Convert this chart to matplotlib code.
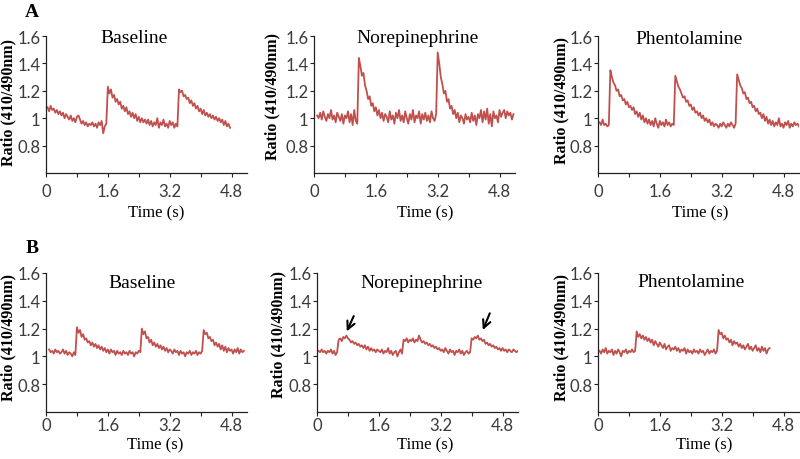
import numpy as np
import matplotlib
matplotlib.use("Agg")
from matplotlib import pyplot as plt

# sampling interval of the recordings (s)
dt = 0.04

# ---- row A traces (ratio 410/490 nm) ----
a_base_t0 = 0.04
a_base = [1.08, 1.05, 1.09, 1.06, 1.07, 1.04, 1.06, 1.03, 1.05, 1.02,
          1.04, 1.00, 1.03, 1.01, 0.99, 1.02, 0.98, 1.00, 0.97, 1.01,
          1.02, 0.99, 0.96, 0.98, 0.95, 0.97, 0.94, 0.96, 0.95, 0.97,
          0.94, 0.96, 0.93, 0.97, 0.95, 0.98, 0.89, 0.94, 0.96, 1.23,
          1.18, 1.21, 1.15, 1.17, 1.12, 1.14, 1.10, 1.12, 1.07, 1.09,
          1.05, 1.08, 1.03, 1.05, 1.01, 1.04, 1.00, 1.03, 0.98, 1.01,
          0.97, 1.00, 0.97, 0.99, 0.96, 0.99, 0.95, 0.98, 0.94, 0.97,
          0.95, 1.00, 0.93, 0.97, 0.95, 0.99, 0.94, 0.96, 0.93, 0.98,
          0.95, 0.97, 0.93, 0.96, 0.94, 1.21, 1.19, 1.20, 1.16, 1.17,
          1.14, 1.15, 1.11, 1.13, 1.09, 1.11, 1.07, 1.09, 1.05, 1.07,
          1.03, 1.06, 1.02, 1.04, 1.01, 1.03, 1.00, 1.02, 0.99, 1.01,
          0.98, 1.00, 0.97, 0.99, 0.95, 0.98, 0.94, 0.96, 0.93]

a_ne_t0 = 0.08
a_ne = [1.02, 1.00, 1.04, 0.99, 1.05, 1.01, 0.98, 1.03, 1.00, 1.06,
        0.99, 1.02, 0.97, 1.04, 1.01, 0.98, 1.03, 0.96, 1.02, 1.00,
        1.05, 0.97, 1.03, 0.95, 1.06, 0.98, 0.96, 1.44, 1.38, 1.31,
        1.33, 1.24, 1.20, 1.14, 1.16, 1.09, 1.11, 1.05, 1.08, 1.02,
        1.06, 1.00, 1.04, 0.98, 1.03, 1.01, 0.97, 1.05, 0.99, 1.02,
        0.96, 1.04, 1.00, 1.06, 0.98, 1.02, 0.97, 1.05, 1.00, 0.96,
        1.03, 0.99, 1.06, 0.97, 1.02, 1.00, 1.05, 0.96, 1.03, 0.99,
        1.04, 0.98, 1.02, 0.97, 1.05, 1.00, 0.98, 1.03, 1.48, 1.40,
        1.30, 1.25, 1.18, 1.20, 1.12, 1.14, 1.07, 1.09, 1.03, 1.06,
        1.00, 1.04, 0.97, 1.02, 1.00, 0.96, 1.03, 0.99, 1.01, 0.97,
        1.04, 0.98, 1.02, 0.95, 1.03, 1.00, 1.06, 0.97, 1.05, 0.99,
        1.07, 0.96, 1.03, 0.94, 1.05, 1.00, 1.02, 0.97, 1.06, 1.01,
        1.04, 1.06, 1.00, 1.05, 1.02, 1.04, 0.99, 1.03]

a_phen_t0 = 0.04
a_phen = [0.97, 0.95, 0.99, 0.95, 0.96, 0.94, 0.95, 1.35, 1.30, 1.26,
          1.24, 1.20, 1.21, 1.16, 1.17, 1.13, 1.14, 1.10, 1.12, 1.08,
          1.09, 1.06, 1.08, 1.03, 1.05, 1.01, 1.04, 0.99, 1.02, 0.97,
          1.00, 0.96, 0.99, 0.95, 0.98, 0.94, 1.00, 0.96, 0.93, 0.98,
          0.95, 0.97, 0.94, 0.99, 0.95, 0.97, 0.94, 0.96, 0.95, 1.31,
          1.27, 1.23, 1.21, 1.18, 1.15, 1.16, 1.12, 1.13, 1.09, 1.10,
          1.06, 1.08, 1.04, 1.05, 1.02, 1.04, 1.00, 1.02, 0.98, 1.00,
          0.97, 0.99, 0.95, 0.97, 0.94, 0.96, 0.95, 0.93, 0.96, 0.94,
          0.97, 0.95, 0.93, 0.96, 0.94, 0.97, 0.95, 0.93, 0.96, 1.32,
          1.28, 1.24, 1.22, 1.18, 1.19, 1.14, 1.15, 1.11, 1.12, 1.08,
          1.09, 1.05, 1.07, 1.03, 1.04, 1.00, 1.03, 0.98, 1.01, 0.96,
          0.99, 0.95, 0.98, 0.94, 0.97, 0.95, 1.00, 0.94, 0.96, 0.93,
          0.97, 0.95, 0.98, 0.93, 0.96, 0.94, 0.97, 0.95, 0.96, 0.94]

# ---- row B traces ----
b_base_t0 = 0.08
b_base = [1.05, 1.03, 1.04, 1.02, 1.05, 1.03, 1.04, 1.02, 1.03, 1.05,
          1.02, 1.04, 1.01, 1.03, 1.02, 1.00, 1.03, 1.01, 1.21, 1.17,
          1.19, 1.14, 1.16, 1.12, 1.13, 1.10, 1.11, 1.08, 1.10, 1.07,
          1.09, 1.06, 1.08, 1.05, 1.07, 1.04, 1.06, 1.03, 1.05, 1.02,
          1.05, 1.03, 1.04, 1.01, 1.04, 1.02, 1.03, 1.01, 1.04, 1.02,
          1.03, 1.01, 1.04, 1.02, 1.03, 1.00, 1.03, 1.02, 1.04, 1.03,
          1.20, 1.16, 1.18, 1.13, 1.14, 1.10, 1.12, 1.08, 1.10, 1.07,
          1.09, 1.06, 1.08, 1.05, 1.07, 1.04, 1.06, 1.03, 1.05, 1.04,
          1.02, 1.05, 1.03, 1.04, 1.01, 1.04, 1.02, 1.03, 1.00, 1.03,
          1.02, 1.04, 1.01, 1.03, 1.02, 1.04, 1.01, 1.03, 1.02, 1.04,
          1.19, 1.16, 1.17, 1.13, 1.14, 1.11, 1.12, 1.08, 1.10, 1.07,
          1.09, 1.05, 1.08, 1.04, 1.07, 1.03, 1.06, 1.04, 1.05, 1.02,
          1.05, 1.03, 1.06, 1.02, 1.05, 1.03, 1.04]

b_ne_t0 = 0.04
b_ne = [1.04, 1.03, 1.05, 1.03, 1.04, 1.02, 1.04, 1.03, 1.05, 1.02,
        1.04, 1.01, 1.03, 1.12, 1.13, 1.11, 1.14, 1.13, 1.15, 1.13,
        1.12, 1.10, 1.11, 1.09, 1.10, 1.08, 1.09, 1.07, 1.08, 1.06,
        1.08, 1.05, 1.07, 1.04, 1.06, 1.04, 1.05, 1.03, 1.05, 1.04,
        1.03, 1.05, 1.02, 1.04, 1.03, 1.06, 1.02, 1.04, 1.01, 1.03,
        1.04, 1.00, 1.03, 1.05, 1.02, 1.12, 1.11, 1.13, 1.10, 1.12,
        1.11, 1.13, 1.10, 1.12, 1.11, 1.15, 1.12, 1.10, 1.11, 1.09,
        1.10, 1.08, 1.09, 1.07, 1.08, 1.06, 1.07, 1.05, 1.06, 1.04,
        1.05, 1.03, 1.06, 1.04, 1.02, 1.05, 1.03, 1.04, 1.01, 1.04,
        1.03, 1.05, 1.02, 1.04, 1.01, 1.03, 1.04, 1.02, 1.03, 1.13,
        1.12, 1.14, 1.13, 1.15, 1.12, 1.13, 1.11, 1.12, 1.09, 1.10,
        1.08, 1.09, 1.07, 1.08, 1.06, 1.07, 1.05, 1.06, 1.04, 1.06,
        1.04, 1.05, 1.03, 1.05, 1.04, 1.03, 1.05, 1.04, 1.03, 1.04, 1.04]

b_phen_t0 = 0.04
b_phen = [1.04, 1.02, 1.05, 1.03, 1.06, 1.02, 1.04, 1.03, 1.05, 1.01,
          1.04, 1.02, 1.05, 1.03, 1.00, 1.04, 1.03, 1.05, 1.02, 1.04,
          1.03, 1.05, 1.03, 1.04, 1.18, 1.14, 1.16, 1.13, 1.15, 1.12,
          1.14, 1.11, 1.13, 1.10, 1.12, 1.08, 1.11, 1.09, 1.07, 1.10,
          1.08, 1.06, 1.09, 1.05, 1.07, 1.08, 1.04, 1.06, 1.05, 1.07,
          1.04, 1.06, 1.03, 1.05, 1.04, 1.06, 1.02, 1.05, 1.03, 1.04,
          1.02, 1.05, 1.03, 1.04, 1.02, 1.05, 1.03, 1.04, 1.01, 1.03,
          1.05, 1.02, 1.04, 1.03, 1.05, 1.02, 1.04, 1.19, 1.16, 1.17,
          1.13, 1.15, 1.12, 1.13, 1.10, 1.12, 1.08, 1.11, 1.09, 1.10,
          1.07, 1.09, 1.06, 1.08, 1.05, 1.07, 1.09, 1.05, 1.07, 1.04,
          1.06, 1.08, 1.04, 1.06, 1.03, 1.07, 1.04, 1.06, 1.02, 1.05, 1.06]

titles = ["Baseline", "Norepinephrine", "Phentolamine"]
x_ticks = [0, 0.8, 1.6, 2.4, 3.2, 4.0, 4.8]
x_labels = ["0", "", "1.6", "", "3.2", "", "4.8"]
y_ticks = [0.8, 1.0, 1.2, 1.4, 1.6]
y_labels = ["0.8", "1", "1.2", "1.4", "1.6"]

W, H = 800, 460
trace_color = "#C0504D"
serif = "Liberation Serif"
sans = "Lato"

fig = plt.figure(figsize=(W / 100, H / 100), dpi=100)


def ftext(x, y, s, **kw):
    # place text using pixel coords measured from the top-left corner
    fig.text(x / W, 1 - y / H, s, **kw)


def make_axes(left, top, bottom, width, tick_pad):
    ax = fig.add_axes([left / W, 1 - bottom / H, width / W, (bottom - top) / H])
    ax.set_xlim(0, 5.2)
    ax.set_ylim(0.6, 1.6)
    ax.spines["top"].set_visible(False)
    ax.spines["right"].set_visible(False)
    for s in ("left", "bottom"):
        ax.spines[s].set_linewidth(0.9)
        ax.spines[s].set_color("#222222")
    ax.set_xticks(x_ticks)
    ax.set_xticklabels(x_labels)
    ax.set_yticks(y_ticks)
    ax.set_yticklabels(y_labels)
    ax.tick_params(axis="both", length=3, width=0.8, color="#222222",
                   labelsize=12, labelcolor="#3a3a3a")
    ax.tick_params(axis="x", pad=tick_pad)
    ax.tick_params(axis="y", pad=1)
    for lbl in ax.get_xticklabels() + ax.get_yticklabels():
        lbl.set_fontfamily(sans)
    ax.patch.set_visible(False)
    return ax


def draw_trace(ax, t0, vals):
    t = t0 + dt * np.arange(len(vals))
    ax.plot(t, vals, color=trace_color, lw=1.3)


# row A
lefts_a = [46, 314, 598]
ax_a = [make_axes(l, 37, 174, 201, 4) for l in lefts_a]
draw_trace(ax_a[0], a_base_t0, a_base)
draw_trace(ax_a[1], a_ne_t0, a_ne)
draw_trace(ax_a[2], a_phen_t0, a_phen)

# row B
lefts_b = [46, 317, 598]
ax_b = [make_axes(l, 274, 413, 201, 0.5) for l in lefts_b]
draw_trace(ax_b[0], b_base_t0, b_base)
draw_trace(ax_b[1], b_ne_t0, b_ne)
draw_trace(ax_b[2], b_phen_t0, b_phen)

# arrows marking the small transients in B / Norepinephrine
for tail, tip in [((0.95, 1.29), (0.77, 1.18)), ((4.47, 1.31), (4.29, 1.19))]:
    ax_b[1].annotate("", xy=tip, xytext=tail,
                     arrowprops=dict(arrowstyle="->", color="black", lw=1.5,
                                     mutation_scale=14, shrinkA=0, shrinkB=0))

# panel titles
for (x, y), s in zip([(134, 43), (418, 43), (689, 44)], titles):
    ftext(x, y, s, ha="center", va="baseline", family=serif, fontsize=14)
for (x, y), s in zip([(142, 288), (422, 288), (691, 287)], titles):
    ftext(x, y, s, ha="center", va="baseline", family=serif, fontsize=14)

# y labels
for x, y in [(8, 103), (272, 97), (561, 101), (8, 338), (278, 335), (561, 338)]:
    ftext(x, y, "Ratio (410/490nm)", ha="center", va="center", rotation=90,
          family=serif, fontsize=11.5, fontweight="bold")

# x labels
for x, y in [(156, 217), (425, 217), (700, 217), (155, 449), (425, 449), (704, 449)]:
    ftext(x, y, "Time (s)", ha="center", va="baseline", family=serif, fontsize=12)

# panel letters
ftext(32, 17, "A", ha="center", va="baseline", family=serif, fontsize=14,
      fontweight="bold")
ftext(32, 253, "B", ha="center", va="baseline", family=serif, fontsize=14,
      fontweight="bold")

fig.savefig("out.png", dpi=100)
